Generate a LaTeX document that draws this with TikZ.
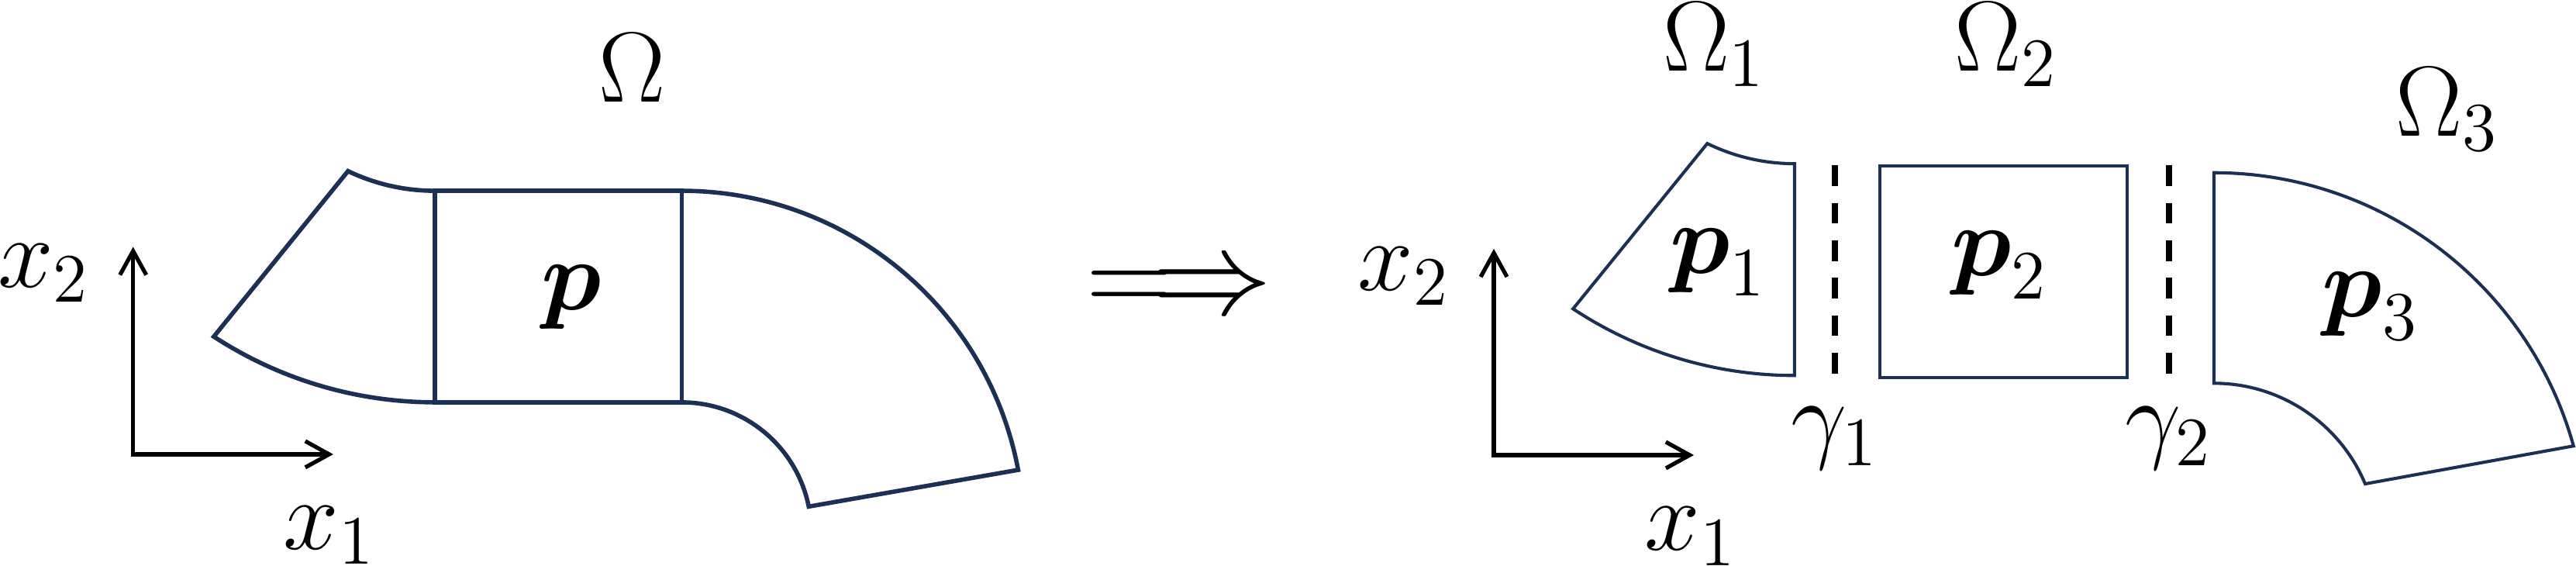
\documentclass[tikz,border=0pt]{standalone}
\usepackage{amsmath}
\usetikzlibrary{arrows.meta,positioning}
\definecolor{bleunuit}{RGB}{27,48,84}

\begin{document}
\begin{tikzpicture}[
domaine/.style={draw=bleunuit, line width=0.75pt},
sousdomaine/.style={draw=bleunuit, line width=0.55pt},
bloc/.style={rectangle, inner sep=0pt, outer sep=0pt, minimum width=1.503cm, minimum height=1.287cm},
axe/.style={line width=0.7pt, {Straight Barb[length=1.45mm, width=1.6mm]}-{Straight Barb[length=1.45mm, width=1.6mm]}},
interface/.style={line width=1.1pt, dash pattern=on 0.126cm off 0.102cm},
etiquette/.style={inner sep=0pt, font=\LARGE},
]
    \useasboundingbox (0,0) rectangle (15.675,3.4387);
    % Longueurs et espacement
    \def\distgamma{0.395cm}

    % Domaine complet
    \node [bloc, domaine] (carre) at (3.397,1.6345) {};
    \coordinate (coinB) at (1.301,1.391);
    \coordinate (coinC) at (4.921,0.357);
    \draw [domaine] (carre.north west) arc [start angle=270, end angle=244.4, radius=1.222]
        -- (coinB) arc [start angle=236.9, end angle=270, radius=2.463];
    \draw [domaine] (carre.north east) arc [start angle=90, end angle=10.65, radius=2.083]
        -- (coinC) arc [start angle=11.27, end angle=90, radius=0.788];
    \node [etiquette] (omega) at (3.847,3.028) {$\Omega$};
    \node [etiquette] (p) at (3.476,1.632) {$\boldsymbol{p}$};

    % Repere de gauche
    \coordinate (origineG) at (0.810,0.675);
    \coordinate (hautG) at (0.810,1.937);
    \coordinate (droiteG) at (2.028,0.675);
    \draw [axe] (hautG) -- (origineG) -- (droiteG);
    \node [etiquette] (x2G) at (0.267,1.776) {$x_2$};
    \node [etiquette] (x1G) at (2.005,0.184) {$x_1$};

    % Implication
    \node [inner sep=0pt, font=\huge] (implique) at (7.175,1.665) {$\Longrightarrow$};

    % Sous-domaines
    \coordinate (coinH1) at (10.920,2.443);
    \coordinate (coinL1) at (9.572,1.560);
    \draw [sousdomaine] (coinH1) arc [start angle=270, end angle=244.0, radius=1.212]
        -- (coinL1) arc [start angle=236.5, end angle=270, radius=2.441] -- cycle;
    \node [bloc, sousdomaine] (carre2) at (12.191,1.785) {};
    \coordinate (coinH3) at (13.472,2.388);
    \coordinate (coinI3) at (14.392,0.495);
    \draw [sousdomaine] (coinH3) arc [start angle=90, end angle=15.55, radius=2.271]
        -- (coinI3) arc [start angle=22.73, end angle=90, radius=0.9975] -- cycle;

    \node [etiquette] (omega1) at (10.433,3.167) {$\Omega_1$};
    \node [etiquette, right of=omega1, node distance=1.775cm] (omega2) {$\Omega_2$};
    \node [etiquette] (omega3) at (14.894,2.774) {$\Omega_3$};
    \node [etiquette] (p1) at (10.456,1.843) {$\boldsymbol{p}_1$};
    \node [etiquette] (p2) at (12.170,1.825) {$\boldsymbol{p}_2$};
    \node [etiquette] (p3) at (14.426,1.575) {$\boldsymbol{p}_3$};

    % Interfaces
    \coordinate (g1haut) at (11.166,2.433);
    \coordinate (g1bas) at (11.166,1.166);
    \coordinate (g2haut) at (13.198,2.433);
    \coordinate (g2bas) at (13.198,1.166);
    \draw [interface] (g1haut) -- (g1bas);
    \draw [interface] (g2haut) -- (g2bas);
    \node [etiquette, below of=g1bas, node distance=\distgamma] (gamma1) {$\gamma_1$};
    \node [etiquette, below of=g2bas, node distance=\distgamma] (gamma2) {$\gamma_2$};

    % Repere de droite
    \coordinate (origineD) at (9.090,0.670);
    \coordinate (hautD) at (9.090,1.925);
    \coordinate (droiteD) at (10.307,0.670);
    \draw [axe] (hautD) -- (origineD) -- (droiteD);
    \node [etiquette] (x2D) at (8.545,1.759) {$x_2$};
    \node [etiquette] (x1D) at (10.288,0.175) {$x_1$};
\end{tikzpicture}
\end{document}
